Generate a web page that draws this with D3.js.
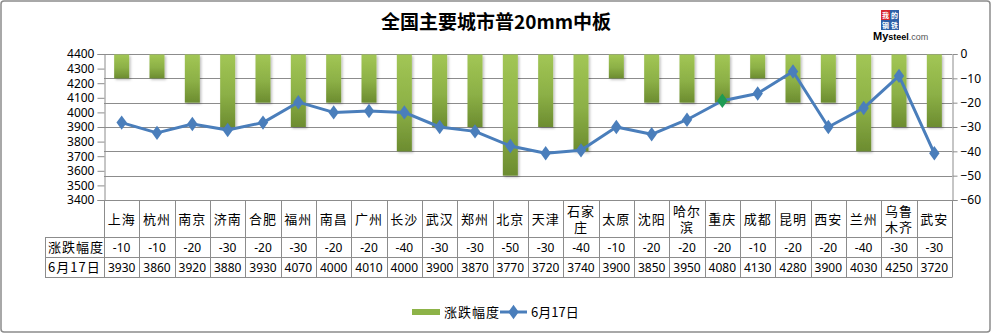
<!DOCTYPE html>
<html>
<head>
<meta charset="utf-8">
<script src="https://cdn.jsdelivr.net/npm/d3@7"></script>
<style>
  html, body { margin: 0; padding: 0; background: #fff; }
  svg { display: block; }
  text { font-family: "Noto Sans", "Noto Sans CJK SC", sans-serif; fill: #000; }
</style>
</head>
<body>
<svg id="chart" width="992" height="334"></svg>
<script>
// Cities and their values
const cities = ["上海","杭州","南京","济南","合肥","福州","南昌","广州","长沙","武汉","郑州","北京","天津","石家庄","太原","沈阳","哈尔滨","重庆","成都","昆明","西安","兰州","乌鲁木齐","武安"];
const changes = [-10,-10,-20,-30,-20,-30,-20,-20,-40,-30,-30,-50,-30,-40,-10,-20,-20,-20,-10,-20,-20,-40,-30,-30];
const prices = [3930,3860,3920,3880,3930,4070,4000,4010,4000,3900,3870,3770,3720,3740,3900,3850,3950,4080,4130,4280,3900,4030,4250,3720];
// Two-line layout for long city names in the table header row
const cityLines = {"石家庄": ["石家", "庄"], "哈尔滨": ["哈尔", "滨"], "乌鲁木齐": ["乌鲁", "木齐"]};
const leftTicks = [3400,3500,3600,3700,3800,3900,4000,4100,4200,4300,4400];
const rightTicks = [0,-10,-20,-30,-40,-50,-60];
const seriesNames = ["涨跌幅度", "6月17日"];
const titleText = "全国主要城市普20mm中板";
const markedCity = "重庆";

const svg = d3.select("#chart");
const pL = 104, pR = 952, pT = 54, pB = 200;
const cjk = '"Noto Sans CJK SC", sans-serif';

// Outer frame
svg.append("rect").attr("x", 1).attr("y", 1).attr("width", 989).attr("height", 331)
  .attr("rx", 3).attr("fill", "#fff").attr("stroke", "#8c8c8c").attr("stroke-width", 1.5);

const defs = svg.append("defs");
const grad = defs.append("linearGradient").attr("id", "barGrad")
  .attr("x1", 0).attr("y1", 0).attr("x2", 0).attr("y2", 1);
grad.append("stop").attr("offset", "0%").attr("stop-color", "#a2c655");
grad.append("stop").attr("offset", "55%").attr("stop-color", "#8cb046");
grad.append("stop").attr("offset", "100%").attr("stop-color", "#6c8c30");
const shadow = defs.append("filter").attr("id", "barShadow")
  .attr("x", "-30%").attr("y", "-10%").attr("width", "160%").attr("height", "130%");
shadow.append("feDropShadow").attr("dx", 1.5).attr("dy", 1.5).attr("stdDeviation", 1)
  .attr("flood-color", "#000").attr("flood-opacity", 0.25);

// Scales
const x = d3.scaleBand().domain(cities).range([pL, pR]).paddingInner(0.575).paddingOuter(0.2875);
const xCell = d3.scaleBand().domain(cities).range([pL, pR]);
const yL = d3.scaleLinear().domain([3400, 4400]).range([pB, pT]);
const yR = d3.scaleLinear().domain([-60, 0]).range([pB, pT]);

// Title
svg.append("text").attr("x", 496).attr("y", 29).attr("text-anchor", "middle")
  .style("font-family", cjk).style("font-weight", 700).style("font-size", "19px")
  .text(titleText);

// Brand mark
const logo = svg.append("g").attr("transform", "translate(881,10)");
[["我", 0, 0, "#d8282e"], ["的", 9, 0, "#2d5fa8"], ["钢", 0, 10, "#2d5fa8"], ["铁", 9, 10, "#2d5fa8"]].forEach(([ch, dx, dy, c]) => {
  logo.append("rect").attr("x", dx).attr("y", dy).attr("width", 9).attr("height", 10).attr("fill", c);
  logo.append("text").attr("x", dx + 4.5).attr("y", dy + 7.8).attr("text-anchor", "middle")
    .style("font-family", cjk).style("font-size", "7px").style("font-weight", 700)
    .style("fill", "#fff").text(ch);
});
svg.append("text").attr("x", 873).attr("y", 40)
  .style("font-family", "Liberation Sans, sans-serif").style("font-size", "9px")
  .html('<tspan style="font-weight:700;font-size:11px">My</tspan><tspan style="font-weight:700">steel</tspan><tspan fill="#555">.com</tspan>');

// Gridlines at right-axis ticks
svg.append("g").selectAll("line").data(rightTicks.filter(t => t !== -60)).join("line")
  .attr("x1", pL).attr("x2", pR).attr("y1", d => Math.round(yR(d)) + 0.5).attr("y2", d => Math.round(yR(d)) + 0.5)
  .attr("stroke", "#8c8c8c").attr("stroke-width", 1);

// Left axis
const axL = svg.append("g").attr("transform", `translate(${pL + 0.5},0)`)
  .call(d3.axisLeft(yL).tickValues(leftTicks).tickSize(7).tickPadding(3).tickFormat(d3.format("d")));
axL.selectAll("path, line").attr("stroke", "#8c8c8c");
axL.selectAll("text").style("font-size", "12px").style("font-family", "Noto Sans, sans-serif");

// Right axis
const axR = svg.append("g").attr("transform", `translate(${pR + 0.5},0)`)
  .call(d3.axisRight(yR).tickValues(rightTicks).tickSize(5).tickPadding(3).tickFormat(d3.format("d")));
axR.selectAll("path, line").attr("stroke", "#8c8c8c");
axR.selectAll("text").style("font-size", "12px").style("font-family", "Noto Sans, sans-serif");

// Bars hanging from zero on the right axis
svg.append("g").selectAll("rect").data(cities).join("rect")
  .attr("x", d => x(d)).attr("width", x.bandwidth())
  .attr("y", yR(0) + 0.5)
  .attr("height", (d, i) => yR(changes[i]) - yR(0) - 0.5)
  .attr("fill", "url(#barGrad)").attr("filter", "url(#barShadow)");

// Price line
const line = d3.line().x((d, i) => x(cities[i]) + x.bandwidth() / 2).y(d => yL(d));
svg.append("path").datum(prices).attr("d", line)
  .attr("fill", "none").attr("stroke", "#4a7ebb").attr("stroke-width", 3).attr("stroke-linejoin", "round");
const diamond = d3.symbol().type(d3.symbolDiamond).size(60);
svg.append("g").selectAll("path").data(prices).join("path")
  .attr("d", diamond)
  .attr("transform", (d, i) => `translate(${x(cities[i]) + x.bandwidth() / 2},${yL(d)}) scale(1.25,1)`)
  .attr("fill", (d, i) => cities[i] === markedCity ? "#1e9b54" : "#4a7ebb");

// Data table
const rowTop = [pB, 237, 257, 277];
const tbl = svg.append("g");
const gridColor = "#8c8c8c";
// horizontal rules
tbl.append("line").attr("x1", pL).attr("x2", pR).attr("y1", rowTop[0] + 0.5).attr("y2", rowTop[0] + 0.5).attr("stroke", gridColor);
[1, 2, 3].forEach(r => {
  tbl.append("line").attr("x1", 45).attr("x2", pR).attr("y1", rowTop[r] + 0.5).attr("y2", rowTop[r] + 0.5).attr("stroke", gridColor);
});
// vertical rules
const bounds = cities.map(c => xCell(c)).concat([pR]);
tbl.selectAll("line.v").data(bounds).join("line").attr("class", "v")
  .attr("x1", d => Math.round(d) + 0.5).attr("x2", d => Math.round(d) + 0.5)
  .attr("y1", rowTop[0]).attr("y2", rowTop[3] + 0.5).attr("stroke", gridColor);
tbl.append("line").attr("x1", 45.5).attr("x2", 45.5).attr("y1", rowTop[1]).attr("y2", rowTop[3] + 0.5).attr("stroke", gridColor);

// header cells (city names)
cities.forEach(c => {
  const cx = xCell(c) + xCell.bandwidth() / 2;
  const lines = cityLines[c] || [c];
  const mid = (rowTop[0] + rowTop[1]) / 2;
  if (lines.length === 1) {
    tbl.append("text").attr("x", cx).attr("y", mid + 5).attr("text-anchor", "middle")
      .style("font-family", cjk).style("font-size", "13px").style("letter-spacing", "1px").text(c);
  } else {
    const t = tbl.append("text").attr("text-anchor", "middle")
      .style("font-family", cjk).style("font-size", "13px").style("letter-spacing", "1px");
    lines.forEach((ln, k) => {
      t.append("tspan").attr("x", cx).attr("y", mid - 3 + k * 16).text(ln);
    });
  }
});
// row labels
seriesNames.forEach((n, r) => {
  tbl.append("text").attr("x", 48).attr("y", rowTop[r + 1] + 15)
    .style("font-family", cjk).style("font-size", "13px").style("letter-spacing", "1px").text(n);
});
// values
[changes, prices].forEach((arr, r) => {
  arr.forEach((v, i) => {
    tbl.append("text").attr("x", xCell(cities[i]) + xCell.bandwidth() / 2).attr("y", rowTop[r + 1] + 15)
      .attr("text-anchor", "middle").style("font-size", "12px").text(v);
  });
});

// Legend
const lg = svg.append("g");
lg.append("rect").attr("x", 412).attr("y", 309).attr("width", 28).attr("height", 6).attr("fill", "#8db348");
lg.append("text").attr("x", 444).attr("y", 317).style("font-family", cjk).style("font-size", "13px")
  .style("letter-spacing", "1px").text(seriesNames[0]);
lg.append("line").attr("x1", 500).attr("x2", 527).attr("y1", 312).attr("y2", 312)
  .attr("stroke", "#4a7ebb").attr("stroke-width", 3);
lg.append("path").attr("d", diamond).attr("transform", "translate(513.5,312) scale(1.25,1)").attr("fill", "#4a7ebb");
lg.append("text").attr("x", 531).attr("y", 317).style("font-family", cjk).style("font-size", "13px").text(seriesNames[1]);
</script>
</body>
</html>
